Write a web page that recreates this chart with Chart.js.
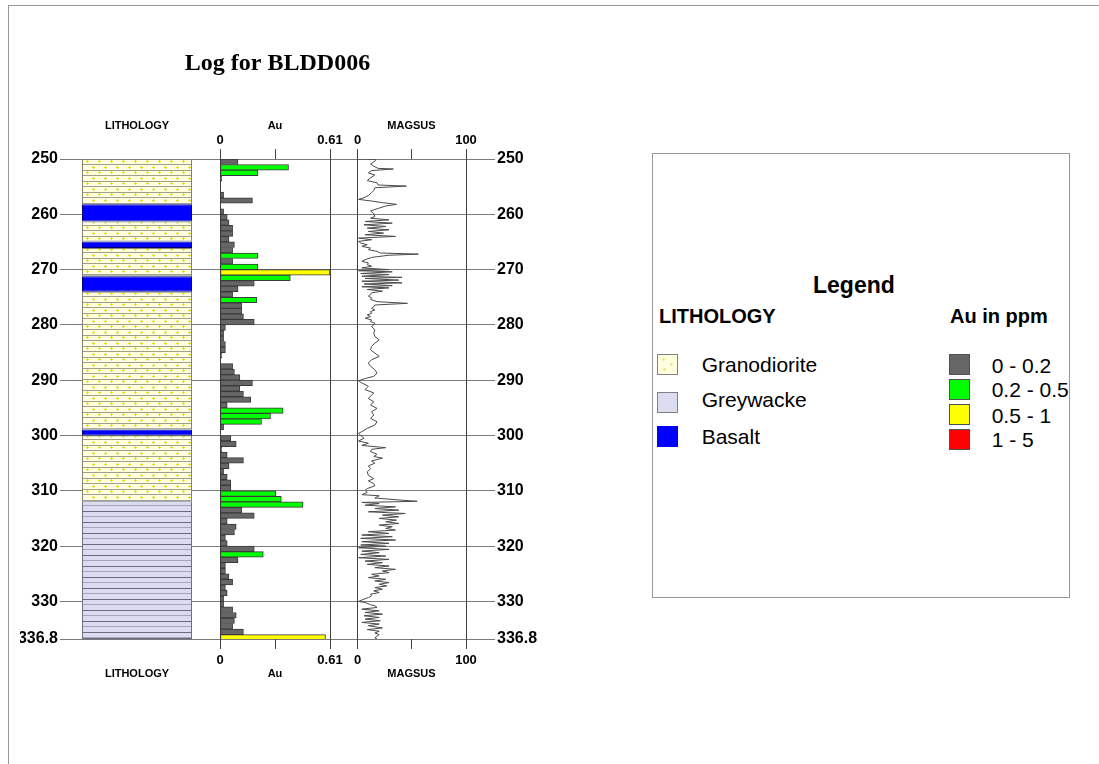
<!DOCTYPE html>
<html>
<head>
<meta charset="utf-8">
<title>Log for BLDD006</title>
<script src="https://cdn.jsdelivr.net/npm/chart.js@4.4.1/dist/chart.umd.min.js"></script>
<style>
  body { margin: 0; width: 1099px; height: 764px; overflow: hidden; position: relative; background: #fff;
         font-family: "Liberation Sans", Arial, sans-serif; color: #000; }
  #frame { position: absolute; left: 8px; top: 5px; right: -2px; bottom: -2px; border-left: 1px solid #999; border-top: 1px solid #999; }
  #logChart { position: absolute; left: 0; top: 0; }
  #legendBox { position: absolute; left: 652px; top: 153px; width: 418px; height: 445px; border: 1px solid #999; box-sizing: border-box; }
  .lg { position: absolute; line-height: 1; white-space: nowrap; }
  .sw { position: absolute; width: 21px; height: 21px; box-sizing: border-box; border: 1px solid #666; }
</style>
</head>
<body>
<div id="frame"></div>
<canvas id="logChart" width="560" height="764"></canvas>
<div id="legendBox"></div>
<div id="legend"></div>

<script>
// depth axis
const depthTicks = [250, 260, 270, 280, 290, 300, 310, 320, 330, 336.8]
const depthLabels = ["250", "260", "270", "280", "290", "300", "310", "320", "330", "336.8"]

// lithology intervals
const lithFrom = [250, 258.2, 261.3, 264.9, 266.1, 271.2, 274.0, 298.9, 300.0, 311.9]
const lithTo = [258.2, 261.3, 264.9, 266.1, 271.2, 274.0, 298.9, 300.0, 311.9, 336.8]
const lithRock = ["Granodiorite", "Basalt", "Granodiorite", "Basalt", "Granodiorite", "Basalt",
  "Granodiorite", "Basalt", "Granodiorite", "Greywacke"]
const rockNames = ["Granodiorite", "Greywacke", "Basalt"]

// Au assays (ppm), 1 m samples
const auFrom = [250, 251, 252, 253, 254, 255, 256, 257, 258, 259, 260, 261, 262, 263, 264, 265, 266, 267, 268, 269,
  270, 271, 272, 273, 274, 275, 276, 277, 278, 279, 280, 281, 282, 283, 284, 285, 286, 287, 288, 289,
  290, 291, 292, 293, 294, 295, 296, 297, 298, 299, 300, 301, 302, 303, 304, 305, 306, 307, 308, 309,
  310, 311, 312, 313, 314, 315, 316, 317, 318, 319, 320, 321, 322, 323, 324, 325, 326, 327, 328, 329,
  330, 331, 332, 333, 334, 335, 336]
const auValue = [0.10, 0.38, 0.21, 0.01, null, null, 0.02, 0.18, null, 0.02,
  0.04, 0.05, 0.07, 0.07, 0.05, 0.08, 0.07, 0.21, 0.07, 0.21,
  0.61, 0.39, 0.19, 0.10, 0.07, 0.205, 0.12, 0.12, 0.13, 0.19,
  0.03, 0.02, 0.02, 0.03, 0.03, 0.01, null, 0.07, 0.08, 0.11,
  0.18, 0.11, 0.13, 0.17, 0.04, 0.35, 0.28, 0.23, 0.02, null,
  0.06, 0.09, 0.01, 0.04, 0.13, 0.05, 0.02, 0.04, 0.06, 0.06,
  0.31, 0.34, 0.46, 0.12, 0.19, 0.04, 0.09, 0.08, 0.03, 0.04,
  0.19, 0.24, 0.10, 0.03, 0.03, 0.05, 0.07, 0.03, 0.04, 0.02,
  0.02, 0.07, 0.09, 0.08, 0.07, 0.13, 0.585]
const auBins = [0.2, 0.5, 1, 5]
const auBinLabels = ["0 - 0.2", "0.2 - 0.5", "0.5 - 1", "1 - 5"]
const auColors = ["#666666", "#00ff00", "#ffff00", "#ff0000"]
const auTicks = [0, 0.305, 0.61]
const auTickLabels = ["0", "", "0.61"]

// magnetic susceptibility
const magDepth = [250.0, 250.05, 250.4, 250.9, 251.3, 251.7, 251.8, 252.1, 252.5, 252.9, 253.4, 253.9, 254.3, 254.7, 254.9,
  255.2, 255.7, 256.1, 256.6, 257.0, 257.3, 257.6, 257.9, 258.2, 258.5, 259.0, 259.4, 259.9,
  260.4, 260.7, 261.0, 261.3, 261.6, 261.9, 262.2, 262.5, 262.8, 263.1, 263.4, 263.7, 264.0, 264.3, 264.6, 264.9,
  265.2, 265.5, 265.8, 266.1, 266.4, 266.7, 267.0, 267.2, 267.4, 267.8, 268.2, 268.5, 268.8, 269.1, 269.4, 269.7,
  270.0, 270.2, 270.4, 270.7, 270.9, 271.2, 271.4, 271.6, 271.9, 272.1, 272.4, 272.6, 272.9, 273.1, 273.3, 273.6, 273.9,
  274.2, 274.5, 274.8, 275.1, 275.4, 275.8, 276.1, 276.4, 276.7, 277.0, 277.3, 277.6, 277.9, 278.2, 278.5, 278.8,
  279.1, 279.4, 279.7, 280.0, 280.3, 280.9, 281.5, 282.1, 282.7, 283.3, 283.9, 284.5, 285.1, 285.7, 286.3, 286.9,
  287.5, 288.1, 288.7, 289.3, 289.7, 290.1, 290.5, 291.1, 291.7, 292.3, 292.9, 293.3, 293.9, 294.5, 295.1, 295.7,
  296.3, 296.9, 297.5, 298.1, 298.7, 299.3, 299.6, 300.0, 300.5, 301.0, 301.4, 301.8, 302.2, 302.5, 302.9, 303.4,
  303.8, 304.1, 304.6, 305.0, 305.5, 306.0, 306.6, 307.2, 307.8, 308.2, 308.7, 309.1, 309.6, 309.9,
  310.3, 310.7, 310.9, 311.3, 311.7, 311.9, 312.1, 312.3, 312.6, 312.9, 313.2, 313.5, 313.8, 314.1, 314.4, 314.7,
  315.0, 315.3, 315.6, 315.9, 316.2, 316.5, 316.8, 317.1, 317.4, 317.7, 318.0, 318.3, 318.6, 318.9, 319.2, 319.5, 319.8,
  320.0, 320.3, 320.6, 320.9, 321.2, 321.5, 321.8, 322.1, 322.4, 322.7, 323.0, 323.3, 323.6, 323.9, 324.2, 324.5, 324.8,
  325.1, 325.4, 325.7, 326.0, 326.3, 326.6, 326.9, 327.2, 327.5, 327.8, 328.1, 328.4, 328.7, 329.0, 329.3, 329.6,
  330.0, 330.2, 330.6, 330.8, 331.1, 331.4, 331.7, 332.0, 332.3, 332.6, 332.9, 333.2, 333.5, 333.8, 334.1, 334.4, 334.8,
  335.1, 335.4, 335.7, 336.0, 336.3, 336.6, 336.8]
const magValue = [0, 17, 16, 12, 15, 19, 33, 13, 10, 16, 12, 9, 18, 19, 45,
  16, 15, 13, 10, 6, 1, 13, 23, 36, 26, 18, 12, 15,
  16, 12, 29, 7, 32, 6, 26, 9, 29, 10, 24, 7, 35, 1, 13, 1,
  3, 9, 4, 12, 10, 18, 21, 56, 29, 13, 7, 4, 10, 9, 13, 4,
  29, 1, 32, 3, 29, 4, 41, 7, 38, 4, 41, 6, 32, 4, 29, 9, 23,
  13, 12, 10, 13, 12, 18, 46, 16, 15, 13, 16, 12, 13, 9, 12, 7,
  13, 12, 16, 15, 13, 16, 15, 16, 20, 16, 13, 12, 16, 20, 13, 10,
  12, 16, 18, 15, 7, 1, 4, 10, 7, 15, 12, 10, 15, 12, 18, 13,
  15, 12, 18, 16, 9, 4, 1, 3, 6, 1, 10, 4, 26, 13, 12, 18,
  15, 23, 13, 16, 10, 12, 9, 10, 15, 10, 15, 16, 9, 7,
  9, 4, 20, 16, 41, 55, 4, 20, 7, 35, 16, 38, 10, 44, 23, 38,
  20, 36, 26, 38, 20, 32, 26, 35, 10, 29, 4, 32, 3, 35, 4, 29, 3,
  26, 1, 29, 4, 20, 3, 26, 1, 29, 7, 23, 9, 29, 16, 35, 23, 29,
  13, 20, 10, 26, 16, 29, 20, 27, 16, 23, 15, 20, 12, 13, 10, 6,
  1, 7, 12, 16, 18, 4, 20, 7, 23, 6, 20, 7, 21, 4, 20, 10, 23,
  9, 20, 16, 20, 18, 16, 18]
const magTicks = [0, 50, 100]
const magTickLabels = ["0", "", "100"]

const ctx = document.querySelector("#logChart").getContext("2d")

// rock fills
const makeTile = (w, h, draw) => {
  const c = document.createElement("canvas")
  c.width = w
  c.height = h
  draw(c.getContext("2d"))
  return c
}
const plus = (g, x, y) => {
  g.fillRect(x - 1, y, 3, 1)
  g.fillRect(x, y - 1, 1, 3)
}
const granoTile = makeTile(12, 11, g => {
  g.fillStyle = "#ffffe0"
  g.fillRect(0, 0, 12, 11)
  g.fillStyle = "#a0a088"
  g.fillRect(0, 0, 12, 1)
  g.fillRect(0, 5, 12, 1)
  g.fillStyle = "#e2e200"
  plus(g, 3, 2)
  plus(g, 9, 8)
})
const greyTile = makeTile(4, 11, g => {
  g.fillStyle = "#dcdcf0"
  g.fillRect(0, 0, 4, 11)
  g.fillStyle = "#6a6a80"
  g.fillRect(0, 0, 4, 1)
  g.fillStyle = "#a4a4bc"
  g.fillRect(0, 5, 4, 1)
})
const granoFill = ctx.createPattern(granoTile, "repeat")
granoFill.setTransform(new DOMMatrix().translate(0, 159))
const greyFill = ctx.createPattern(greyTile, "repeat")
greyFill.setTransform(new DOMMatrix().translate(0, 159))
const rockFill = { Granodiorite: granoFill, Greywacke: greyFill, Basalt: "#0000ff" }
const rockEdge = { Granodiorite: "#808080", Greywacke: "#707080", Basalt: "#000070" }

const auColor = v => {
  let i = auBins.findIndex(b => v < b)
  if (i < 0) i = auBins.length - 1
  return auColors[i]
}

const lithDatasets = lithFrom.map((from, i) => ({
  type: "bar",
  indexAxis: "x",
  xAxisID: "xL",
  yAxisID: "yL",
  grouped: false,
  data: [{ x: "LITHOLOGY", y: [from, lithTo[i]] }],
  backgroundColor: rockFill[lithRock[i]],
  borderColor: rockEdge[lithRock[i]],
  borderWidth: 1,
  borderSkipped: false,
  barPercentage: 110 / 154,
  categoryPercentage: 1
}))

// not grouped: each Au bar fills its whole 1 m sample slot
const auDataset = {
  type: "bar",
  indexAxis: "y",
  xAxisID: "xAu",
  yAxisID: "y",
  grouped: false,
  data: auFrom.map((d, i) => ({ x: auValue[i], y: d + 0.5 })),
  backgroundColor: c => auColor(c.raw ? c.raw.x : 0),
  borderColor: "#3a3a3a",
  borderWidth: 1,
  borderSkipped: false,
  barPercentage: 1,
  categoryPercentage: 1
}

const magDataset = {
  type: "line",
  indexAxis: "y",
  xAxisID: "xM",
  yAxisID: "y",
  data: magDepth.map((d, i) => ({ x: magValue[i], y: d })),
  borderColor: "#4a4a4a",
  borderWidth: 1,
  pointRadius: 0,
  tension: 0,
  fill: false
}

const tickFont = { family: "Liberation Sans", size: 13, weight: "bold" }
const depthFont = { family: "Liberation Sans", size: 16, weight: "bold" }
const titleFont = { family: "Liberation Sans", size: 11, weight: "bold" }
const fixH = h => s => { s.height = h }
const fixW = w => s => { s.width = w }
const setTicks = list => s => { s.ticks = list.map(v => ({ value: v })) }

const topTitle = text => ({ display: true, text, font: titleFont, color: "#000", padding: { top: 10.4, bottom: 0 } })
const botTitle = text => ({ display: true, text, font: titleFont, color: "#000", padding: { top: 0, bottom: 8.4 } })
const hiddenTicks = { display: false }

const valueAxis = (pos, stack, weight, stackWeight, min, max, ticks, labels, text, onArea) => ({
  type: "linear",
  axis: "x",
  position: pos,
  stack,
  weight,
  stackWeight,
  min,
  max,
  offset: false,
  afterBuildTicks: setTicks(ticks),
  ticks: {
    callback: (v, i) => labels[i],
    font: tickFont,
    color: "#000",
    padding: pos === "top" ? 1 : 4,
    autoSkip: false,
    maxRotation: 0
  },
  grid: {
    offset: false,
    drawOnChartArea: onArea,
    color: c => (c.tick && c.tick.value === ticks[1] ? "rgba(0,0,0,0)" : "#404040"),
    tickColor: "#404040",
    tickLength: 10
  },
  border: { display: false },
  title: pos === "top" ? topTitle(text) : botTitle(text),
  afterFit: fixH(50)
})

const lithAxis = (pos, stack, weight) => ({
  type: "category",
  axis: "x",
  position: pos,
  stack,
  weight,
  stackWeight: 154,
  offset: true,
  labels: ["LITHOLOGY"],
  ticks: hiddenTicks,
  grid: { display: false },
  border: { display: false },
  title: pos === "top" ? topTitle("LITHOLOGY") : botTitle("LITHOLOGY"),
  afterFit: fixH(50)
})

const gapAxis = (pos, stack, weight) => ({
  type: "linear",
  axis: "x",
  position: pos,
  stack,
  weight,
  stackWeight: 8,
  min: 0,
  max: 1,
  offset: false,
  ticks: hiddenTicks,
  grid: { display: false, offset: false },
  border: { display: false },
  afterFit: fixH(50)
})

const depthAxis = (pos, w, onArea) => ({
  type: "linear",
  axis: "y",
  position: pos,
  reverse: true,
  min: 250,
  max: 336.8,
  offset: false,
  afterBuildTicks: setTicks(depthTicks),
  ticks: { callback: (v, i) => depthLabels[i], font: depthFont, color: "#000", padding: 2, autoSkip: false },
  grid: { offset: false, drawOnChartArea: onArea, drawTicks: false, color: "#7a7a7a" },
  border: { display: false },
  afterFit: fixW(w)
})

const auMin = -0.61 * 6 / 110
const auMax = 0.61 + 0.61 * 6 / 110
const magMin = -100 * 21.5 / 108.5
const magMax = 100 + 100 * 21 / 108.5

new Chart(ctx, {
  type: "bar",
  data: { datasets: [...lithDatasets, auDataset, magDataset] },
  options: {
    responsive: false,
    animation: false,
    layout: { padding: { left: 20, right: 20, top: 0, bottom: 75 } },
    plugins: {
      legend: { display: false },
      tooltip: { enabled: false },
      title: {
        display: true,
        fullSize: false,
        text: "Log for BLDD006",
        color: "#000",
        font: { family: "Liberation Serif", size: 24, weight: "bold" },
        padding: { top: 49, bottom: 31.2 }
      }
    },
    scales: {
      y: depthAxis("left", 40, true),
      yR: depthAxis("right", 45, false),
      yL: { type: "linear", axis: "y", display: false, reverse: true, min: 250, max: 336.8, offset: false },
      xL: lithAxis("top", "cols", 40),
      xAu: valueAxis("top", "cols", 30, 122, auMin, auMax, auTicks, auTickLabels, "Au", true),
      xM: valueAxis("top", "cols", 20, 151, magMin, magMax, magTicks, magTickLabels, "MAGSUS", true),
      xG: gapAxis("top", "cols", 10),
      xLb: lithAxis("bottom", "cols", 1),
      xAub: valueAxis("bottom", "cols", 2, 122, auMin, auMax, auTicks, auTickLabels, "Au", false),
      xMb: valueAxis("bottom", "cols", 3, 151, magMin, magMax, magTicks, magTickLabels, "MAGSUS", false),
      xGb: gapAxis("bottom", "cols", 4)
    }
  }
})

// legend panel
const legend = document.querySelector("#legend")
const addText = (text, left, top, size, bold) => {
  const d = document.createElement("div")
  d.className = "lg"
  d.textContent = text
  d.style.left = left + "px"
  d.style.top = top + "px"
  d.style.fontSize = size + "px"
  d.style.fontWeight = bold ? "bold" : "normal"
  legend.appendChild(d)
}
const addSwatch = (left, top, fill, edge) => {
  const d = document.createElement("canvas")
  d.className = "sw"
  d.width = 19
  d.height = 19
  d.style.left = left + "px"
  d.style.top = top + "px"
  d.style.borderColor = edge
  const g = d.getContext("2d")
  g.fillStyle = fill
  g.fillRect(0, 0, 19, 19)
  legend.appendChild(d)
  return g
}

addText("Legend", 813, 273.5, 23, true)
addText("LITHOLOGY", 659, 306, 20, true)
addText("Au in ppm", 950, 306, 20, true)

const rockSwatchTop = [354, 392, 426]
const rockTextTop = [354, 389, 425.5]
rockNames.forEach((name, i) => {
  const fill = name === "Granodiorite" ? "#ffffe0" : name === "Greywacke" ? "#dcdcf0" : "#0000ff"
  const g = addSwatch(657, rockSwatchTop[i], fill, name === "Basalt" ? "#0000ff" : "#808080")
  if (name === "Granodiorite") {
    g.fillStyle = "#e6e67a"
    plus(g, 5, 4)
    plus(g, 13, 9)
    plus(g, 6, 14)
  }
  addText(name, 701.7, rockTextTop[i], 21, false)
})

const auTextTop = [354.5, 379, 404.5, 429]
auBinLabels.forEach((label, i) => {
  addSwatch(949, 354 + i * 25, auColors[i], "#505050")
  addText(label, 991.7, auTextTop[i], 21, false)
})
</script>
</body>
</html>
